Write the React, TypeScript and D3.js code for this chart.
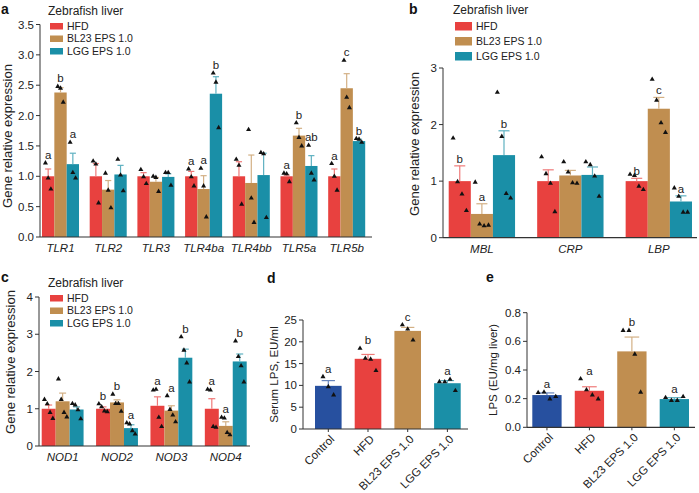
import React from 'react';
import * as d3 from 'd3';

const SERIES = ['HFD', 'BL23 EPS 1.0', 'LGG EPS 1.0'];
const SERIES_COLORS = ['#e8413f', '#c08e50', '#1a8fa7'];
const GROUPS4 = ['Control', 'HFD', 'BL23 EPS 1.0', 'LGG EPS 1.0'];
const GROUPS4_COLORS = ['#27509f', '#e8413f', '#c08e50', '#1a8fa7'];

// Panel a
const aCats = ['TLR1', 'TLR2', 'TLR3', 'TLR4ba', 'TLR4bb', 'TLR5a', 'TLR5b'];
const aMeans = [[1.0, 2.38, 1.2], [1.0, 0.78, 1.03], [1.0, 0.91, 0.99], [1.0, 0.79, 2.36], [1.0, 0.89, 1.02], [1.0, 1.67, 1.17], [1.0, 2.45, 1.58]];
const aErrs = [[0.12, 0.08, 0.18], [0.21, 0.15, 0.15], [0.06, 0.07, 0.05], [0.08, 0.22, 0.28], [0.24, 0.46, 0.36], [0.02, 0.12, 0.17], [0.12, 0.24, 0.03]];
const aPoints = [
  [[1.22, 0.97, 0.79], [2.48, 2.45, 2.22], [1.56, 1.06, 0.97]],
  [[1.25, 1.2, 0.56], [1.05, 0.77, 0.48], [1.28, 1.02, 0.76]],
  [[1.11, 0.99, 0.88], [1.0, 0.98, 0.75], [1.06, 1.06, 0.85]],
  [[1.12, 0.99, 0.84], [1.13, 0.84, 0.33], [2.7, 2.55, 1.8]],
  [[1.28, 1.18, 0.54], [1.77, 0.64, 0.24], [1.39, 1.37, 0.32]],
  [[1.05, 1.04, 0.91], [1.88, 1.64, 1.5], [1.51, 1.05, 0.94]],
  [[1.21, 1.0, 0.77], [2.91, 2.3, 2.13], [1.62, 1.61, 1.56]],
];
const aLetters = [['a', 'b', 'a'], ['', '', ''], ['', '', ''], ['a', 'a', 'b'], ['', '', ''], ['a', 'b', 'ab'], ['a', 'c', 'b']];
const aTicks = [0, 0.5, 1, 1.5, 2, 2.5, 3, 3.5];

// Panel b
const bCats = ['MBL', 'CRP', 'LBP'];
const bMeans = [[1.0, 0.42, 1.46], [1.0, 1.1, 1.11], [1.0, 2.28, 0.64]];
const bErrs = [[0.27, 0.18, 0.43], [0.2, 0.09, 0.14], [0.05, 0.2, 0.1]];
const bPoints = [
  [[1.76, 0.99, 0.77, 0.48], [0.98, 0.24, 0.21, 0.22], [2.57, 1.79, 0.78, 0.7]],
  [[1.43, 1.13, 0.96, 0.46], [1.34, 1.16, 0.97, 0.96], [1.34, 1.29, 1.09, 0.73]],
  [[1.12, 1.1, 0.91, 0.85], [2.8, 2.43, 2.03, 1.86], [0.88, 0.73, 0.45, 0.45]],
];
const bLetters = [['b', 'a', 'b'], ['', '', ''], ['b', 'c', 'a']];
const bTicks = [0, 1, 2, 3];

// Panel c
const cCats = ['NOD1', 'NOD2', 'NOD3', 'NOD4'];
const cMeans = [[1.0, 1.2, 0.98], [1.0, 1.17, 0.48], [1.08, 0.95, 2.37], [1.0, 0.54, 2.27]];
const cErrs = [[0.1, 0.22, 0.07], [0.05, 0.07, 0.09], [0.24, 0.13, 0.23], [0.27, 0.11, 0.2]];
const cPoints = [
  [[1.25, 1.13, 0.9, 0.74], [1.8, 1.25, 0.9, 0.78], [1.14, 1.1, 0.97, 0.73]],
  [[1.13, 1.05, 0.94, 0.92], [1.39, 1.14, 1.14, 0.93], [0.62, 0.59, 0.41, 0.32]],
  [[1.5, 1.52, 0.77, 0.52], [1.35, 0.98, 0.83, 0.65], [2.93, 2.57, 2.23, 1.72]],
  [[1.52, 1.5, 0.52, 0.5], [0.77, 0.75, 0.36, 0.3], [2.82, 2.4, 2.15, 1.72]],
];
const cLetters = [['', '', ''], ['b', 'b', 'a'], ['a', 'a', 'b'], ['a', 'a', 'b']];
const cTicks = [0, 1, 2, 3, 4];

// Panel d
const dMeans = [9.9, 16.1, 22.5, 10.5];
const dErrs = [1.2, 1.0, 0.8, 0.6];
const dPoints = [[12.0, 9.7, 7.8], [18.5, 16.2, 16.0, 13.4], [23.9, 22.9, 20.4], [10.85, 10.8, 11.4, 8.8]];
const dLetters = ['a', 'b', 'c', 'a'];
const dTicks = [0, 5, 10, 15, 20, 25];

// Panel e
const eMeans = [0.225, 0.255, 0.53, 0.197];
const eErrs = [0.015, 0.028, 0.1, 0.01];
const ePoints = [[0.242, 0.246, 0.198, 0.214], [0.338, 0.261, 0.226, 0.198], [0.676, 0.676, 0.51, 0.245], [0.207, 0.187, 0.187, 0.214]];
const eLetters = ['a', 'a', 'b', 'a'];
const eTicks = [0, 0.2, 0.4, 0.6, 0.8];

const FONT = 'Liberation Sans, Arial, Helvetica, sans-serif';
const tri = d3.symbol().type(d3.symbolTriangle).size(11)() as string;
const light = (c: string) => d3.interpolateRgb(c, '#ffffff')(0.3);

type Bar = { x: number; w: number; mean: number; err: number; pts: number[]; letter: string; color: string };

function Bars({ bars, y, letterAboveErr, spread }: { bars: Bar[]; y: d3.ScaleLinear<number, number>; letterAboveErr: boolean; spread: number }) {
  return (
    <g>
      {bars.map((b, i) => {
        const cx = b.x + b.w / 2;
        const top = y(b.mean + b.err);
        const n = b.pts.length;
        const maxPt = n ? y(d3.max(b.pts) as number) : top;
        const ly = letterAboveErr ? top - 3 : Math.min(maxPt, top) - 4;
        return (
          <g key={i}>
            <rect x={b.x} y={y(b.mean)} width={b.w} height={y(0) - y(b.mean)} fill={b.color} />
            {b.err > 0 && (
              <g stroke={light(b.color)} strokeWidth={1.2}>
                <line x1={cx} x2={cx} y1={y(b.mean)} y2={top} />
                <line x1={cx - b.w * 0.25} x2={cx + b.w * 0.25} y1={top} y2={top} />
              </g>
            )}
            {b.pts.map((p, j) => (
              <path key={j} d={tri} transform={`translate(${cx + (j - (n - 1) / 2) * b.w * spread},${y(p)})`} fill="#111" />
            ))}
            {b.letter && (
              <text x={cx} y={ly} textAnchor="middle" fontSize={11.5} fill="#222">{b.letter}</text>
            )}
          </g>
        );
      })}
    </g>
  );
}

function YAxis({ x, y, ticks, fmt }: { x: number; y: d3.ScaleLinear<number, number>; ticks: number[]; fmt: (n: number) => string }) {
  const d = y.domain();
  return (
    <g>
      <line x1={x} x2={x} y1={y(d[0])} y2={y(d[1])} stroke="#333" strokeWidth={1} />
      {ticks.map((t) => (
        <g key={t}>
          <line x1={x - 4} x2={x} y1={y(t)} y2={y(t)} stroke="#333" strokeWidth={1} />
          <text x={x - 6} y={y(t)} dy="0.35em" textAnchor="end" fontSize={11.5} fill="#222">{fmt(t)}</text>
        </g>
      ))}
    </g>
  );
}

function Legend({ x, y, sw, sh, gap }: { x: number; y: number; sw: number; sh: number; gap: number }) {
  return (
    <g>
      <text x={x - 2} y={y} fontSize={12} fill="#222">Zebrafish liver</text>
      {SERIES.map((s, i) => (
        <g key={s}>
          <rect x={x} y={y + 8 + i * gap} width={sw} height={sh} fill={SERIES_COLORS[i]} />
          <text x={x + sw + 4} y={y + 8 + i * gap + sh / 2} dy="0.35em" fontSize={10.5} fill="#222">{s}</text>
        </g>
      ))}
    </g>
  );
}

function GroupedPanel(props: {
  cats: string[]; means: number[][]; errs: number[][]; points: number[][][]; letters: string[][];
  yDomain: [number, number]; yRange: [number, number]; ticks: number[]; fmt: (n: number) => string;
  axisX: number; axisEnd: number; bandStart: number; bandEnd: number; padInner: number;
  letterAboveErr: boolean; title: string; titleX: number; titleY: number; spread: number;
}) {
  const y = d3.scaleLinear().domain(props.yDomain).range(props.yRange);
  const x0 = d3.scaleBand().domain(props.cats).range([props.bandStart, props.bandEnd]).paddingInner(props.padInner).paddingOuter(0);
  const x1 = d3.scaleBand().domain(SERIES).range([0, x0.bandwidth()]);
  const bars: Bar[] = [];
  props.cats.forEach((c, ci) => {
    SERIES.forEach((s, si) => {
      bars.push({
        x: (x0(c) as number) + (x1(s) as number), w: x1.bandwidth(), mean: props.means[ci][si], err: props.errs[ci][si],
        pts: props.points[ci][si], letter: props.letters[ci][si], color: SERIES_COLORS[si],
      });
    });
  });
  const y0 = y(0);
  return (
    <g>
      <Bars bars={bars} y={y} letterAboveErr={props.letterAboveErr} spread={props.spread} />
      <YAxis x={props.axisX} y={y} ticks={props.ticks} fmt={props.fmt} />
      <line x1={props.axisX} x2={props.axisEnd} y1={y0} y2={y0} stroke="#333" strokeWidth={1.2} />
      {props.cats.map((c) => (
        <text key={c} x={(x0(c) as number) + x0.bandwidth() / 2} y={y0 + 15} textAnchor="middle" fontSize={11.5} fontStyle="italic" fill="#222">{c}</text>
      ))}
      <text transform={`translate(${props.titleX},${props.titleY}) rotate(-90)`} textAnchor="middle" dy="0.35em" fontSize={13} fill="#222">{props.title}</text>
    </g>
  );
}

function SinglePanel(props: {
  means: number[]; errs: number[]; points: number[][]; letters: string[];
  yDomain: [number, number]; yRange: [number, number]; ticks: number[]; fmt: (n: number) => string;
  axisX: number; axisEnd: number; bandStart: number; bandEnd: number; padInner: number; title: string; titleX: number;
}) {
  const y = d3.scaleLinear().domain(props.yDomain).range(props.yRange);
  const x = d3.scaleBand().domain(GROUPS4).range([props.bandStart, props.bandEnd]).paddingInner(props.padInner).paddingOuter(0);
  const bars: Bar[] = GROUPS4.map((g, i) => ({
    x: x(g) as number, w: x.bandwidth(), mean: props.means[i], err: props.errs[i], pts: props.points[i], letter: props.letters[i], color: GROUPS4_COLORS[i],
  }));
  const y0 = y(0);
  const midY = (props.yRange[0] + props.yRange[1]) / 2;
  return (
    <g>
      <Bars bars={bars} y={y} letterAboveErr={false} spread={0.2} />
      <YAxis x={props.axisX} y={y} ticks={props.ticks} fmt={props.fmt} />
      <line x1={props.axisX} x2={props.axisEnd} y1={y0} y2={y0} stroke="#333" strokeWidth={1.2} />
      {GROUPS4.map((g) => {
        const cx = (x(g) as number) + x.bandwidth() / 2;
        return (
          <g key={g}>
            <line x1={cx} x2={cx} y1={y0} y2={y0 + 3} stroke="#333" />
            <text transform={`translate(${cx + 4},${y0 + 8}) rotate(-45)`} textAnchor="end" dy="0.35em" fontSize={11.5} fill="#222">{g}</text>
          </g>
        );
      })}
      <text transform={`translate(${props.titleX},${midY}) rotate(-90)`} textAnchor="middle" dy="0.35em" fontSize={11.5} fill="#222">{props.title}</text>
    </g>
  );
}

const f1 = d3.format('.1f');
const f0 = d3.format('d');

export default function App() {
  return (
    <svg width={699} height={493} style={{ position: 'absolute', left: 0, top: 0, background: '#fff' }} fontFamily={FONT}>
      <rect width={699} height={493} fill="#fff" />
      {/* Panel a */}
      <text x={1} y={14} fontSize={14} fontWeight="bold" fill="#111">a</text>
      <Legend x={50} y={15} sw={13} sh={6.5} gap={12.5} />
      <GroupedPanel cats={aCats} means={aMeans} errs={aErrs} points={aPoints} letters={aLetters}
        yDomain={[0, 3.5]} yRange={[237, 24.5]} ticks={aTicks} fmt={f1}
        axisX={40} axisEnd={372} bandStart={42} bandEnd={365.2} padInner={0.224}
        letterAboveErr={false} title="Gene relative expression" titleX={7} titleY={136} spread={0.22} />
      {/* Panel b */}
      <text x={409} y={14} fontSize={14} fontWeight="bold" fill="#111">b</text>
      <Legend x={455} y={14} sw={17} sh={8.5} gap={15} />
      <GroupedPanel cats={bCats} means={bMeans} errs={bErrs} points={bPoints} letters={bLetters}
        yDomain={[0, 3]} yRange={[237.7, 68]} ticks={bTicks} fmt={f0}
        axisX={443} axisEnd={697} bandStart={448.7} bandEnd={692} padInner={0.25}
        letterAboveErr={true} title="Gene relative expression" titleX={414} titleY={144} spread={0.2} />
      {/* Panel c */}
      <text x={1} y={282} fontSize={14} fontWeight="bold" fill="#111">c</text>
      <Legend x={50} y={287} sw={13} sh={6.5} gap={12.5} />
      <GroupedPanel cats={cCats} means={cMeans} errs={cErrs} points={cPoints} letters={cLetters}
        yDomain={[0, 4]} yRange={[446, 297]} ticks={cTicks} fmt={f0}
        axisX={39} axisEnd={250} bandStart={41.7} bandEnd={246.7} padInner={0.23}
        letterAboveErr={false} title="Gene relative expression" titleX={10} titleY={362} spread={0.2} />
      {/* Panel d */}
      <text x={267} y={283} fontSize={14} fontWeight="bold" fill="#111">d</text>
      <SinglePanel means={dMeans} errs={dErrs} points={dPoints} letters={dLetters}
        yDomain={[0, 25]} yRange={[429, 320]} ticks={dTicks} fmt={f0}
        axisX={303} axisEnd={468} bandStart={315} bandEnd={460.7} padInner={0.33}
        title="Serum LPS, EU/ml" titleX={274} />
      {/* Panel e */}
      <text x={486} y={282} fontSize={14} fontWeight="bold" fill="#111">e</text>
      <SinglePanel means={eMeans} errs={eErrs} points={ePoints} letters={eLetters}
        yDomain={[0, 0.8]} yRange={[427.3, 312.7]} ticks={eTicks} fmt={f1}
        axisX={527} axisEnd={695} bandStart={532.3} bandEnd={689} padInner={0.31}
        title="LPS (EU/mg liver)" titleX={493} />
    </svg>
  );
}
